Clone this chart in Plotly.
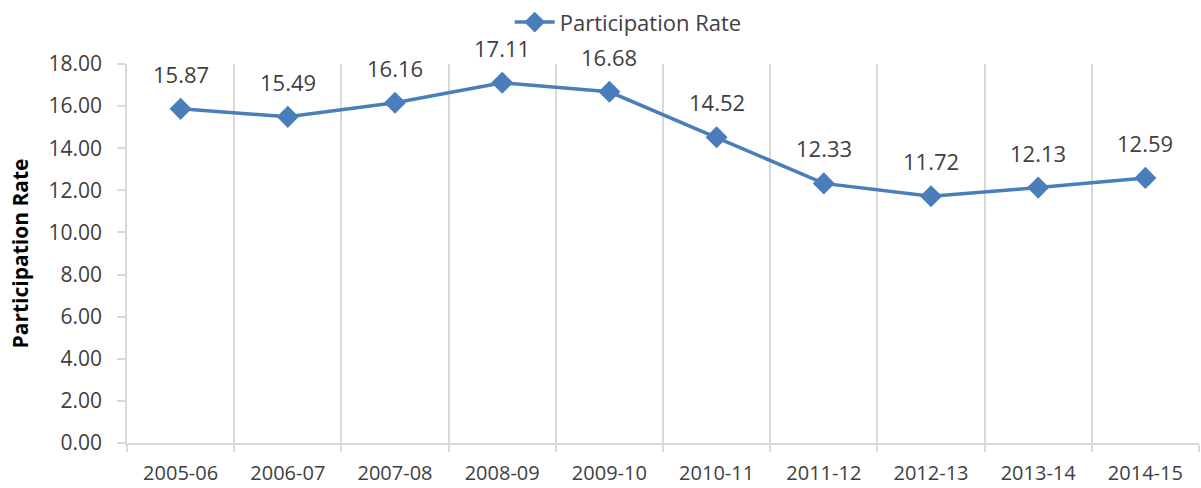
import plotly.graph_objects as go

years = ["2005-06", "2006-07", "2007-08", "2008-09", "2009-10",
         "2010-11", "2011-12", "2012-13", "2013-14", "2014-15"]
rates = [15.87, 15.49, 16.16, 17.11, 16.68, 14.52, 12.33, 11.72, 12.13, 12.59]
y_ticks = [0, 2, 4, 6, 8, 10, 12, 14, 16, 18]

blue = "#4A7EBB"
grid = "#D9D9D9"
txt = "#404040"
font = "Open Sans, Liberation Sans, sans-serif"

fig = go.Figure()
fig.add_trace(go.Scatter(
    x=years, y=rates, mode="lines+markers", name="Participation Rate",
    line=dict(color=blue, width=3.5),
    marker=dict(symbol="diamond", size=17, color=blue),
))

for xv, yv in zip(years, rates):
    fig.add_annotation(x=xv, y=yv, text=f"{yv:.2f}", showarrow=False,
                       yshift=35, font=dict(family=font, size=22, color=txt))

fig.update_layout(
    width=1201, height=488,
    margin=dict(l=127, r=2, t=64, b=45, autoexpand=False),
    paper_bgcolor="white", plot_bgcolor="white",
    showlegend=True,
    legend=dict(orientation="h", x=0.357, xanchor="left", y=1.11, yanchor="middle",
                font=dict(family=font, size=22, color=txt),
                bgcolor="rgba(0,0,0,0)", itemwidth=40),
    font=dict(family=font, color=txt),
)

fig.update_xaxes(
    type="category", range=[-0.5, 9.5], tickson="boundaries",
    showgrid=True, gridcolor=grid, gridwidth=1.5,
    showline=True, linecolor=grid, linewidth=1.5,
    ticks="outside", ticklen=7, tickcolor=grid, tickwidth=1.5,
    tickfont=dict(family=font, size=20, color=txt),
    ticklabelstandoff=11,
    zeroline=False, automargin=False,
)
fig.update_yaxes(
    range=[0, 18], tickvals=y_ticks, tickformat=".2f",
    showgrid=False, zeroline=False,
    showline=True, linecolor=grid, linewidth=1.5,
    ticks="outside", ticklen=8, tickcolor=grid, tickwidth=1.5,
    tickfont=dict(family=font, size=21, color=txt),
    ticklabelstandoff=11,
    automargin=False,
    title=dict(text="<b>Participation Rate</b>",
               font=dict(family=font, size=21, color="#000000"), standoff=14),
)

fig.write_html("out.html", config={"displayModeBar": False},
               post_script="document.body.style.margin='0';")
